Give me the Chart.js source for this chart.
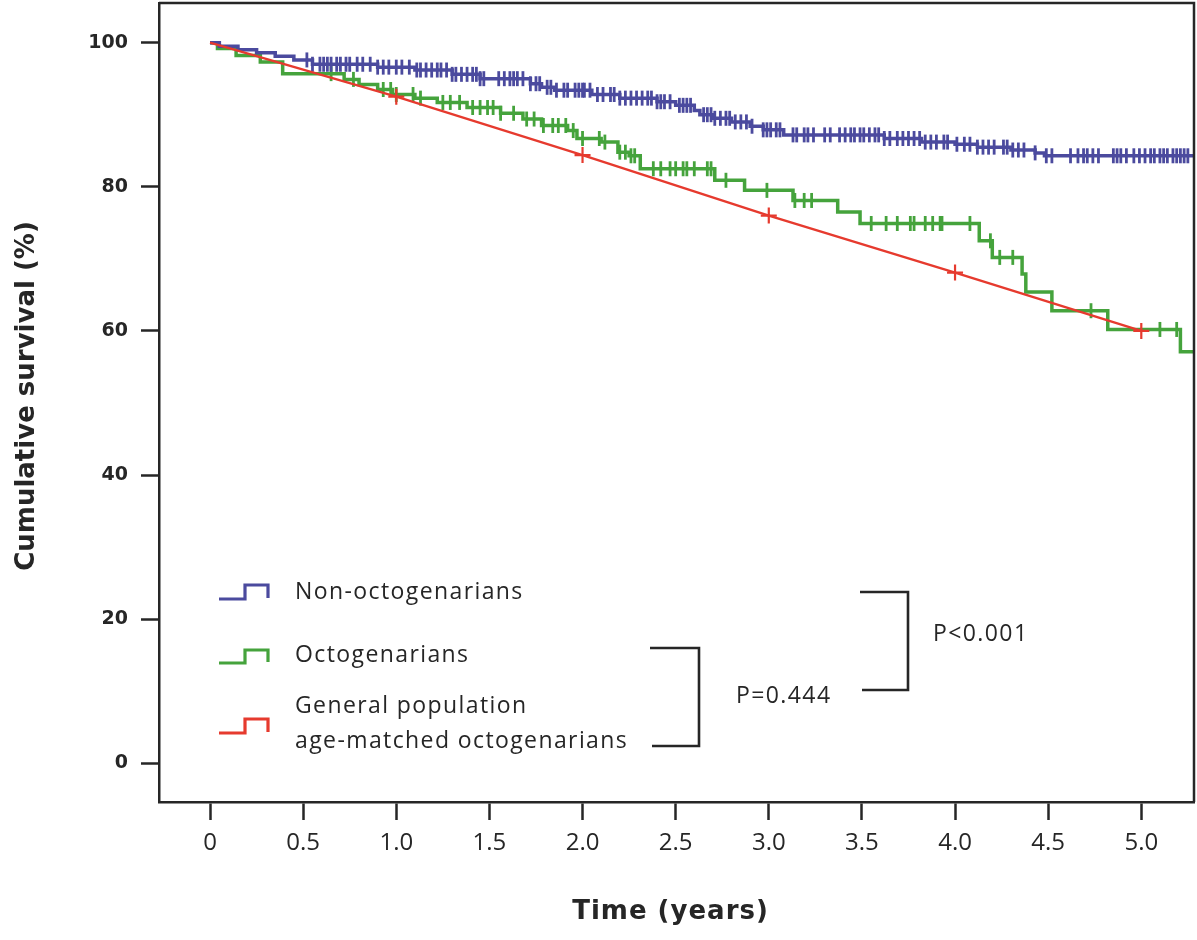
<!DOCTYPE html>
<html><head><meta charset="utf-8">
<script src="https://cdn.jsdelivr.net/npm/chart.js@4.4.0/dist/chart.umd.min.js"></script>
<style>html,body{margin:0;padding:0;background:#fff;}#wrap{width:1197px;height:940px;}</style>
</head><body><div id="wrap"><canvas id="c" width="1197" height="940"></canvas></div>
<script>
// ---- tick labels ----
const xTickValues = [0, 0.5, 1, 1.5, 2, 2.5, 3, 3.5, 4, 4.5, 5];
const xTickLabels = ['0', '0.5', '1.0', '1.5', '2.0', '2.5', '3.0', '3.5', '4.0', '4.5', '5.0'];
const yTickValues = [0, 20, 40, 60, 80, 100];
const yTickLabels = ['0', '20', '40', '60', '80', '100'];

// ---- texts ----
const xTitle = 'Time (years)';
const yTitle = 'Cumulative survival (%)';
const seriesNames = ['Non-octogenarians', 'Octogenarians', 'General population|age-matched octogenarians'];
const pLabels = ['P=0.444', 'P<0.001'];

// ---- Non-octogenarians (KM steps: time, survival %) ----
const blueT = [0, 0.05, 0.15, 0.25, 0.35, 0.45, 0.55, 0.9, 1.1, 1.3, 1.45, 1.72, 1.78, 1.85, 2.05, 2.2, 2.4, 2.5, 2.6, 2.63, 2.7, 2.8, 2.9, 2.97, 3.08, 3.62, 3.82, 4.0, 4.12, 4.3, 4.43, 4.48, 5.28];
const blueS = [100, 99.5, 99.0, 98.6, 98.1, 97.6, 97.0, 96.6, 96.2, 95.6, 95.0, 94.3, 93.8, 93.4, 92.8, 92.3, 91.8, 91.3, 90.6, 90.0, 89.5, 89.0, 88.4, 87.9, 87.2, 86.7, 86.2, 85.9, 85.5, 85.1, 84.7, 84.3, 84.3];
const blueCensor = [0.52, 0.55, 0.59, 0.61, 0.63, 0.65, 0.68, 0.70, 0.73, 0.75, 0.79, 0.82, 0.86, 0.90, 0.93, 0.96, 1.00, 1.03, 1.07, 1.11, 1.13, 1.16, 1.19, 1.22, 1.24, 1.27, 1.30, 1.32, 1.35, 1.38, 1.41, 1.43, 1.45, 1.47, 1.55, 1.58, 1.61, 1.63, 1.65, 1.68, 1.72, 1.75, 1.77, 1.81, 1.83, 1.86, 1.90, 1.92, 1.96, 1.98, 2.00, 2.01, 2.04, 2.08, 2.11, 2.15, 2.17, 2.20, 2.23, 2.26, 2.29, 2.32, 2.35, 2.37, 2.40, 2.42, 2.44, 2.47, 2.52, 2.54, 2.56, 2.58, 2.65, 2.67, 2.69, 2.71, 2.74, 2.77, 2.79, 2.82, 2.85, 2.88, 2.91, 2.97, 2.99, 3.01, 3.04, 3.06, 3.13, 3.15, 3.19, 3.21, 3.24, 3.30, 3.33, 3.38, 3.41, 3.44, 3.46, 3.49, 3.51, 3.54, 3.57, 3.59, 3.62, 3.65, 3.69, 3.72, 3.75, 3.78, 3.81, 3.84, 3.87, 3.90, 3.94, 3.96, 4.01, 4.05, 4.08, 4.12, 4.15, 4.18, 4.21, 4.26, 4.28, 4.31, 4.34, 4.37, 4.43, 4.49, 4.52, 4.62, 4.66, 4.69, 4.71, 4.74, 4.77, 4.85, 4.87, 4.89, 4.92, 4.96, 4.99, 5.02, 5.05, 5.07, 5.10, 5.12, 5.14, 5.17, 5.19, 5.21, 5.23, 5.25];

// ---- Octogenarians ----
const greenT = [0, 0.04, 0.14, 0.27, 0.39, 0.72, 0.8, 0.9, 0.98, 1.1, 1.22, 1.38, 1.56, 1.68, 1.78, 1.92, 1.97, 2.1, 2.19, 2.25, 2.31, 2.71, 2.87, 3.13, 3.37, 3.49, 4.13, 4.2, 4.36, 4.38, 4.52, 4.82, 5.21, 5.28];
const greenS = [100, 99.2, 98.2, 97.3, 95.7, 94.9, 94.2, 93.5, 92.8, 92.3, 91.7, 91.0, 90.2, 89.4, 88.5, 87.8, 86.7, 86.2, 84.8, 84.3, 82.5, 80.9, 79.5, 78.1, 76.5, 74.9, 72.5, 70.2, 67.9, 65.4, 62.8, 60.2, 57.1, 57.1];
const greenCensor = [0.65, 0.77, 0.93, 0.97, 1.00, 1.09, 1.13, 1.25, 1.29, 1.34, 1.41, 1.45, 1.49, 1.52, 1.56, 1.63, 1.70, 1.74, 1.79, 1.84, 1.87, 1.91, 1.95, 2.00, 2.09, 2.12, 2.20, 2.23, 2.26, 2.28, 2.38, 2.42, 2.47, 2.50, 2.54, 2.56, 2.60, 2.67, 2.69, 2.77, 2.99, 3.14, 3.19, 3.23, 3.55, 3.63, 3.69, 3.76, 3.78, 3.84, 3.88, 3.92, 3.93, 4.08, 4.19, 4.24, 4.31, 4.73, 5.10, 5.19];

// ---- General population age-matched octogenarians ----
const redT = [0, 1, 2, 3, 4, 5];
const redS = [100, 92.5, 84.4, 76.0, 68.1, 60.0];
const redMarks = [1, 2, 3, 4, 5];

const COL_BLUE = '#4b4a9e', COL_GREEN = '#45a33c', COL_RED = '#e63a2e', COL_INK = '#262626';

function stepAt(ts, ss, t) { let v = ss[0]; for (let i = 0; i < ts.length; i++) { if (ts[i] <= t) v = ss[i]; } return v; }
function pts(ts, ss) { return ts.map((t, i) => ({x: t, y: ss[i]})); }

const censorBase = {showLine: false, pointStyle: 'line', rotation: 90, pointRadius: 7.5, pointBorderWidth: 2.8, pointHoverRadius: 7.5};

const datasets = [
  {label: seriesNames[2], data: pts(redT, redS), showLine: true, borderColor: COL_RED, borderWidth: 2.4, pointRadius: 0, order: 0},
  {label: 'red-marks', data: redMarks.map(t => ({x: t, y: redS[redT.indexOf(t)]})), showLine: false, pointStyle: 'cross', pointRadius: 8, pointBorderWidth: 2.2, borderColor: COL_RED, backgroundColor: COL_RED, order: 0},
  {label: seriesNames[0], data: pts(blueT, blueS), showLine: true, stepped: 'before', borderColor: COL_BLUE, borderWidth: 3.5, pointRadius: 0, order: 1},
  Object.assign({label: 'blue-censor', data: blueCensor.map(t => ({x: t, y: stepAt(blueT, blueS, t)})), borderColor: COL_BLUE, backgroundColor: COL_BLUE, order: 1}, censorBase),
  {label: seriesNames[1], data: pts(greenT, greenS), showLine: true, stepped: 'before', borderColor: COL_GREEN, borderWidth: 3.5, pointRadius: 0, order: 2},
  Object.assign({label: 'green-censor', data: greenCensor.map(t => ({x: t, y: stepAt(greenT, greenS, t)})), borderColor: COL_GREEN, backgroundColor: COL_GREEN, order: 2}, censorBase)
];

const framePlugin = {
  id: 'frame',
  afterDatasetsDraw(chart) {
    const {ctx, chartArea: a} = chart;
    ctx.save();
    ctx.strokeStyle = COL_INK; ctx.lineWidth = 2.5;
    ctx.beginPath();
    ctx.moveTo(a.left, a.top); ctx.lineTo(a.right, a.top); ctx.lineTo(a.right, a.bottom);
    ctx.stroke();
    ctx.restore();
  }
};

const annotPlugin = {
  id: 'annot',
  afterDraw(chart) {
    const {ctx, chartArea: a} = chart;
    const L = a.left;
    ctx.save();
    // axis titles
    ctx.fillStyle = COL_INK; ctx.textBaseline = 'middle'; ctx.textAlign = 'center';
    ctx.font = 'bold 26px "DejaVu Sans"';
    try { ctx.letterSpacing = '1px'; } catch (e) {}
    ctx.fillText(xTitle, (a.left + a.right) / 2 - 6, 912);
    ctx.save();
    ctx.translate(27, 396); ctx.rotate(-Math.PI / 2);
    try { ctx.letterSpacing = '0px'; } catch (e) {}
    ctx.fillText(yTitle, 0, 0);
    ctx.restore();
    // legend
    const items = [
      {col: COL_BLUE, low: 599, high: 585, lines: [seriesNames[0]], ty: [592]},
      {col: COL_GREEN, low: 663, high: 650, lines: [seriesNames[1]], ty: [655]},
      {col: COL_RED, low: 733, high: 719, lines: seriesNames[2].split('|'), ty: [706, 741]}
    ];
    ctx.lineWidth = 3.2; ctx.lineJoin = 'miter';
    ctx.font = '23px "Open Sans"'; ctx.textAlign = 'left';
    try { ctx.letterSpacing = '1.4px'; } catch (e) {}
    items.forEach(it => {
      ctx.strokeStyle = it.col;
      ctx.beginPath();
      ctx.moveTo(L + 60, it.low); ctx.lineTo(L + 86, it.low); ctx.lineTo(L + 86, it.high);
      ctx.lineTo(L + 109, it.high); ctx.lineTo(L + 109, it.low - 1);
      ctx.stroke();
      it.lines.forEach((s, k) => ctx.fillText(s, L + 136, it.ty[k]));
    });
    // brackets
    ctx.strokeStyle = COL_INK; ctx.lineWidth = 2.6;
    ctx.beginPath();
    ctx.moveTo(650, 648); ctx.lineTo(699, 648); ctx.lineTo(699, 746); ctx.lineTo(652, 746);
    ctx.moveTo(860, 592); ctx.lineTo(908, 592); ctx.lineTo(908, 690); ctx.lineTo(862, 690);
    ctx.stroke();
    ctx.fillText(pLabels[0], 736, 696);
    ctx.fillText(pLabels[1], 933, 634);
    ctx.restore();
  }
};

new Chart(document.getElementById('c'), {
  type: 'scatter',
  data: {datasets},
  options: {
    responsive: false, animation: false,
    layout: {autoPadding: false, padding: {top: 3, right: 3, left: 0, bottom: 0}},
    plugins: {legend: {display: false}, tooltip: {enabled: false}},
    elements: {line: {tension: 0}},
    scales: {
      x: {
        type: 'linear', min: -0.274, max: 5.283,
        afterBuildTicks: s => { s.ticks = xTickValues.map(v => ({value: v})); },
        afterFit: s => { s.height = 138; s.paddingLeft = 0; s.paddingRight = 0; },
        ticks: {callback: (v, i) => xTickLabels[i], font: {family: 'Open Sans', size: 24}, color: COL_INK, padding: 9, maxRotation: 0, autoSkip: false},
        grid: {drawOnChartArea: false, drawTicks: true, tickLength: 18, tickWidth: 2.5, tickColor: COL_INK},
        border: {display: true, color: COL_INK, width: 2.5},
        title: {display: false}
      },
      y: {
        type: 'linear', min: -5.37, max: 105.5,
        afterBuildTicks: s => { s.ticks = yTickValues.map(v => ({value: v})); },
        afterFit: s => { s.width = 159; s.paddingTop = 0; s.paddingBottom = 0; },
        ticks: {callback: (v, i) => yTickLabels[i], font: {family: 'DejaVu Sans', size: 19, weight: 'bold'}, color: COL_INK, padding: 13, autoSkip: false},
        grid: {drawOnChartArea: false, drawTicks: true, tickLength: 18, tickWidth: 2.5, tickColor: COL_INK},
        border: {display: true, color: COL_INK, width: 2.5},
        title: {display: false}
      }
    }
  },
  plugins: [framePlugin, annotPlugin]
});
</script>
</body></html>
